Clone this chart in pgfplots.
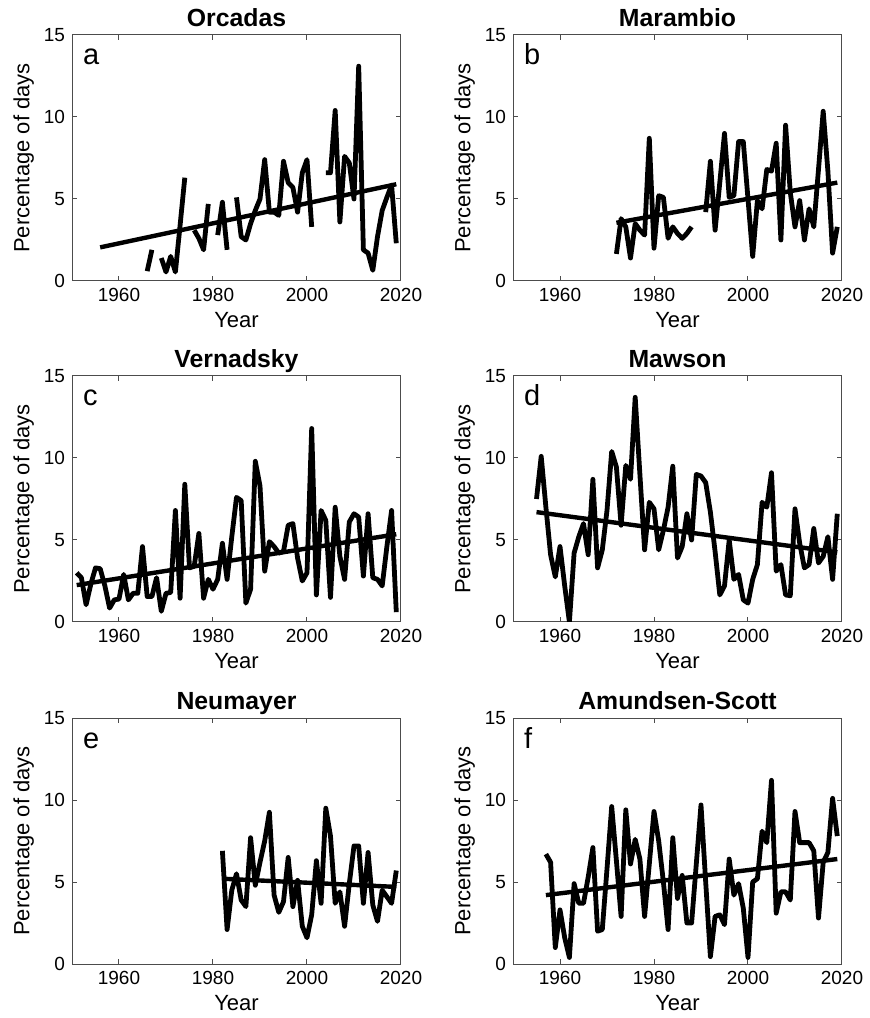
\documentclass[border=0pt]{standalone}
\usepackage{fontspec}
\setmainfont{Liberation Sans}
\usepackage{pgfplots}
\pgfplotsset{compat=1.18}

\pgfplotsset{
  station/.style={
    scale only axis, width=164.5pt, height=123pt,
    anchor=south west,
    xmin=1950, xmax=2020, ymin=0, ymax=15,
    xtick={1960,1980,2000,2020}, ytick={0,5,10,15},
    /pgf/number format/1000 sep={},
    /pgf/number format/assume math mode=true,
    tick align=inside, major tick length=2.5pt,
    tick style={black!70, line width=0.5pt},
    axis line style={black!70, line width=0.5pt},
    tick label style={font=\fontsize{9.5}{10}\selectfont},
    label style={font=\fontsize{11}{12}\selectfont},
    every axis title shift=0pt,
    title style={font=\bfseries\fontsize{12.4}{13}\selectfont,
                 at={(0.5,1.034)}, anchor=base},
    xlabel=Year, ylabel={Percentage of days},
    xlabel style={at={(0.5,-0.19)}, anchor=base},
    ylabel style={at={(-0.1295,0.5)}, anchor=base},
    unbounded coords=jump,
  },
  series/.style={black, line width=2.4pt, line join=round, mark=none},
  trend/.style={black, line width=2.2pt, mark=none},
}
\tikzset{letter/.style={anchor=base west, inner sep=0pt, xshift=5.3pt, yshift=-15pt,
                        font=\fontsize{14.5}{15}\selectfont}}

\begin{document}
\begin{tikzpicture}
\path (0,0) rectangle (432pt,509pt);

% ---- a: Orcadas ----
\begin{axis}[station, at={(36pt,368.5pt)}, title=Orcadas]
\addplot[series] coordinates {
(1966,0.6) (1967,1.9) (1968,nan) (1969,1.4) (1970,0.55) (1971,1.5) (1972,0.55)
(1973,3.4) (1974,6.3) (1975,nan) (1976,3.1) (1977,2.6) (1978,1.9) (1979,4.7)
(1980,nan) (1981,2.8) (1982,4.8) (1983,1.9) (1984,nan) (1985,5.1) (1986,2.7)
(1987,2.5) (1988,3.5) (1989,4.3) (1990,5.0) (1991,7.4) (1992,4.2) (1993,4.2)
(1994,4.0) (1995,7.3) (1996,6.0) (1997,5.7) (1998,4.2) (1999,6.6) (2000,7.4)
(2001,3.3) (2002,nan) (2003,nan) (2004,6.6) (2005,6.6) (2006,10.4) (2007,3.6)
(2008,7.6) (2009,7.2) (2010,5.0) (2011,13.1) (2012,1.9) (2013,1.7) (2014,0.65)
(2015,2.7) (2016,4.3) (2017,5.1) (2018,5.85) (2019,2.3)
};
\addplot[trend] coordinates {(1956,2.05) (2019,5.9)};
\node[letter] at (rel axis cs:0,1) {a};
\end{axis}

% ---- b: Marambio ----
\begin{axis}[station, at={(256.5pt,368.5pt)}, title=Marambio]
\addplot[series] coordinates {
(1972,1.65) (1973,3.8) (1974,3.3) (1975,1.4) (1976,3.5) (1977,3.1) (1978,2.8)
(1979,8.7) (1980,2.0) (1981,5.2) (1982,5.1) (1983,2.6) (1984,3.3) (1985,2.9)
(1986,2.6) (1987,2.9) (1988,3.3) (1989,nan) (1990,nan) (1991,4.2) (1992,7.3)
(1993,3.1) (1994,6.0) (1995,9.0) (1996,5.1) (1997,5.2) (1998,8.5) (1999,8.5)
(2000,5.0) (2001,1.5) (2002,4.9) (2003,4.4) (2004,6.8) (2005,6.7) (2006,8.4)
(2007,2.5) (2008,9.5) (2009,5.4) (2010,3.3) (2011,4.9) (2012,2.5) (2013,4.4)
(2014,3.3) (2015,6.8) (2016,10.35) (2017,6.7) (2018,1.7) (2019,3.3)
};
\addplot[trend] coordinates {(1972,3.55) (2019,6.0)};
\node[letter] at (rel axis cs:0,1) {b};
\end{axis}

% ---- c: Vernadsky ----
\begin{axis}[station, at={(36pt,198pt)}, title=Vernadsky]
\addplot[series] coordinates {
(1951,3.0) (1952,2.7) (1953,1.05) (1954,2.3) (1955,3.3) (1956,3.25) (1957,2.2)
(1958,0.85) (1959,1.35) (1960,1.4) (1961,2.9) (1962,1.35) (1963,1.75) (1964,1.75)
(1965,4.6) (1966,1.55) (1967,1.55) (1968,2.7) (1969,0.65) (1970,1.75) (1971,1.8)
(1972,6.8) (1973,1.45) (1974,8.4) (1975,3.3) (1976,3.4) (1977,5.4) (1978,1.45)
(1979,2.6) (1980,2.0) (1981,2.6) (1982,4.8) (1983,2.6) (1984,5.2) (1985,7.6)
(1986,7.4) (1987,1.15) (1988,2.0) (1989,9.8) (1990,8.3) (1991,3.1) (1992,4.9)
(1993,4.6) (1994,4.2) (1995,4.3) (1996,5.9) (1997,6.0) (1998,3.9) (1999,2.5)
(2000,3.0) (2001,11.8) (2002,1.65) (2003,6.8) (2004,6.2) (2005,1.5) (2006,7.0)
(2007,4.0) (2008,2.6) (2009,6.1) (2010,6.6) (2011,6.4) (2012,2.8) (2013,6.6)
(2014,2.7) (2015,2.6) (2016,2.2) (2017,4.6) (2018,6.8) (2019,0.6)
};
\addplot[trend] coordinates {(1951,2.25) (2019,5.35)};
\node[letter] at (rel axis cs:0,1) {c};
\end{axis}

% ---- d: Mawson ----
\begin{axis}[station, at={(256.5pt,198pt)}, title=Mawson]
\addplot[series] coordinates {
(1955,7.5) (1956,10.1) (1957,7.0) (1958,4.1) (1959,2.75) (1960,4.6) (1961,2.2)
(1962,0.0) (1963,4.2) (1964,5.2) (1965,6.0) (1966,4.1) (1967,8.7) (1968,3.3)
(1969,4.4) (1970,6.8) (1971,10.4) (1972,9.45) (1973,5.9) (1974,9.55) (1975,8.7)
(1976,13.7) (1977,9.0) (1978,4.4) (1979,7.3) (1980,6.9) (1981,4.4) (1982,5.6)
(1983,7.0) (1984,9.5) (1985,3.9) (1986,4.6) (1987,6.6) (1988,5.0) (1989,9.0)
(1990,8.9) (1991,8.5) (1992,6.7) (1993,4.3) (1994,1.65) (1995,2.2) (1996,5.0)
(1997,2.6) (1998,2.9) (1999,1.35) (2000,1.15) (2001,2.6) (2002,3.5) (2003,7.3)
(2004,7.0) (2005,9.1) (2006,3.1) (2007,3.5) (2008,1.65) (2009,1.6) (2010,6.9)
(2011,4.8) (2012,3.3) (2013,3.5) (2014,5.7) (2015,3.6) (2016,4.0) (2017,5.2)
(2018,2.6) (2019,6.6)
};
\addplot[trend] coordinates {(1955,6.7) (2019,4.25)};
\node[letter] at (rel axis cs:0,1) {d};
\end{axis}

% ---- e: Neumayer ----
\begin{axis}[station, at={(36pt,27pt)}, title=Neumayer]
\addplot[series] coordinates {
(1982,6.9) (1983,2.1) (1984,4.5) (1985,5.5) (1986,3.9) (1987,3.5) (1988,7.7)
(1989,4.8) (1990,6.2) (1991,7.5) (1992,9.25) (1993,4.2) (1994,3.15) (1995,3.8)
(1996,6.5) (1997,3.5) (1998,5.1) (1999,2.3) (2000,1.6) (2001,3.0) (2002,6.3)
(2003,3.7) (2004,9.5) (2005,7.8) (2006,3.7) (2007,4.4) (2008,2.3) (2009,4.9)
(2010,7.2) (2011,7.2) (2012,3.7) (2013,6.8) (2014,3.6) (2015,2.6) (2016,4.5)
(2017,4.1) (2018,3.7) (2019,5.7)
};
\addplot[trend] coordinates {(1982,5.2) (2019,4.7)};
\node[letter] at (rel axis cs:0,1) {e};
\end{axis}

% ---- f: Amundsen-Scott ----
\begin{axis}[station, at={(256.5pt,27pt)}, title=Amundsen-Scott]
\addplot[series] coordinates {
(1957,6.7) (1958,6.2) (1959,1.0) (1960,3.3) (1961,1.6) (1962,0.4) (1963,4.9)
(1964,3.7) (1965,3.7) (1966,5.3) (1967,7.1) (1968,2.0) (1969,2.1) (1970,5.8)
(1971,9.6) (1972,6.3) (1973,2.9) (1974,9.4) (1975,6.1) (1976,7.6) (1977,6.4)
(1978,2.9) (1979,6.1) (1980,9.3) (1981,7.5) (1982,5.0) (1983,2.1) (1984,7.7)
(1985,4.0) (1986,5.4) (1987,2.5) (1988,2.5) (1989,6.1) (1990,9.7) (1991,5.0)
(1992,0.45) (1993,2.9) (1994,3.0) (1995,2.4) (1996,6.4) (1997,4.2) (1998,4.9)
(1999,3.4) (2000,0.4) (2001,5.0) (2002,5.2) (2003,8.1) (2004,7.4) (2005,11.2)
(2006,3.1) (2007,4.4) (2008,4.4) (2009,3.9) (2010,9.3) (2011,7.4) (2012,7.4)
(2013,7.4) (2014,6.9) (2015,2.8) (2016,6.2) (2017,6.8) (2018,10.1) (2019,7.8)
};
\addplot[trend] coordinates {(1957,4.2) (2019,6.4)};
\node[letter] at (rel axis cs:0,1) {f};
\end{axis}
\end{tikzpicture}
\end{document}
